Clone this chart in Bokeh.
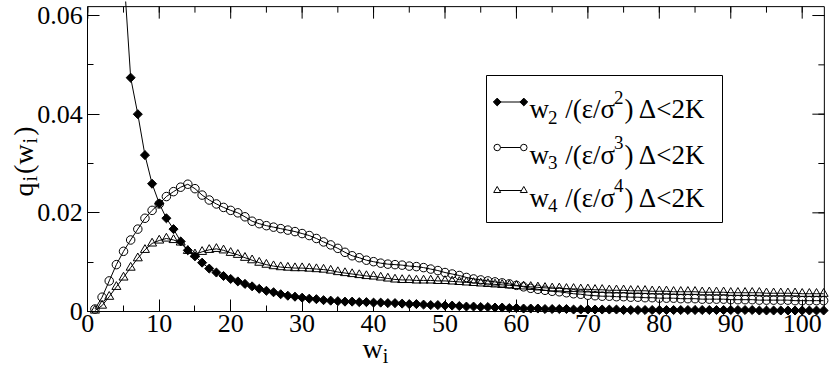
from math import pi
from bokeh.plotting import figure
from bokeh.models import (FixedTicker, Range1d, Label, BoxAnnotation,
                          CustomJSTickFormatter, ColumnDataSource)
from bokeh.embed import file_html
from bokeh.resources import INLINE

# ---------------- data ----------------
w_i = list(range(1, 104))

q2 = [0.600, 0.300, 0.170, 0.110, 0.0695, 0.0474, 0.0400, 0.0317, 0.0259, 0.0219,
      0.0189, 0.0167, 0.0142, 0.0124, 0.0112, 0.0099, 0.0087, 0.0079, 0.0072, 0.0066,
      0.0061, 0.0056, 0.0051, 0.0046, 0.0042, 0.0039, 0.0035, 0.0032, 0.0030, 0.0028,
      0.0026, 0.0025, 0.0023, 0.0022, 0.0021, 0.0020, 0.0020, 0.0019, 0.0019, 0.0018,
      0.0018, 0.0017, 0.0017, 0.0016, 0.0015, 0.0015, 0.0014, 0.0013, 0.0013, 0.0012,
      0.0012, 0.0011, 0.0010, 0.0010, 0.0009, 0.0009, 0.0008, 0.0008, 0.0007, 0.0007,
      0.0006, 0.0006, 0.0006, 0.0005, 0.0005, 0.0005, 0.0005, 0.0004, 0.0004, 0.0004,
      0.0004, 0.0004, 0.0004, 0.0004, 0.0003, 0.0003, 0.0003, 0.0003, 0.0003, 0.0003,
      0.0003, 0.0003, 0.0003, 0.0003, 0.0003, 0.0003, 0.0003, 0.0003, 0.0003, 0.0003,
      0.0003, 0.0003, 0.0003, 0.0002, 0.0002, 0.0002, 0.0002, 0.0002, 0.0002, 0.0002,
      0.0002, 0.0002, 0.0002]

q3 = [0.0005, 0.0029, 0.0062, 0.0095, 0.0122, 0.0145, 0.0167, 0.0189, 0.0205, 0.0218,
      0.0233, 0.0243, 0.0252, 0.0258, 0.0249, 0.0236, 0.0226, 0.0218, 0.0211, 0.0205,
      0.0200, 0.0192, 0.0183, 0.0178, 0.0174, 0.0171, 0.0168, 0.0165, 0.0162, 0.0158,
      0.0154, 0.0148, 0.0141, 0.0135, 0.0128, 0.0120, 0.0113, 0.0109, 0.0104, 0.0101,
      0.0098, 0.0096, 0.0095, 0.0094, 0.0092, 0.0091, 0.0089, 0.0086, 0.0083, 0.0079,
      0.0076, 0.0073, 0.0069, 0.0066, 0.0064, 0.0062, 0.0060, 0.0058, 0.0056, 0.0053,
      0.0050, 0.0047, 0.0045, 0.0043, 0.0041, 0.0040, 0.0038, 0.0036, 0.0035, 0.0033,
      0.0032, 0.0031, 0.0031, 0.0030, 0.0030, 0.0029, 0.0029, 0.0028, 0.0028, 0.0027,
      0.0027, 0.0027, 0.0026, 0.0026, 0.0026, 0.0025, 0.0025, 0.0025, 0.0025, 0.0024,
      0.0024, 0.0024, 0.0024, 0.0023, 0.0023, 0.0023, 0.0023, 0.0023, 0.0022, 0.0022,
      0.0022, 0.0022, 0.0022]

q4 = [0.0002, 0.0012, 0.0030, 0.0050, 0.0069, 0.0089, 0.0108, 0.0125, 0.0138, 0.0144,
      0.0148, 0.0145, 0.0140, 0.0123, 0.0116, 0.0121, 0.0125, 0.0127, 0.0124, 0.0119,
      0.0115, 0.0109, 0.0104, 0.0099, 0.0095, 0.0092, 0.0090, 0.0089, 0.0088, 0.0088,
      0.0087, 0.0086, 0.0085, 0.0083, 0.0080, 0.0078, 0.0076, 0.0074, 0.0072, 0.0071,
      0.0069, 0.0067, 0.0065, 0.0064, 0.0064, 0.0063, 0.0063, 0.0063, 0.0062, 0.0062,
      0.0061, 0.0060, 0.0059, 0.0058, 0.0057, 0.0056, 0.0055, 0.0054, 0.0053, 0.0052,
      0.0051, 0.0050, 0.0049, 0.0048, 0.0047, 0.0047, 0.0046, 0.0046, 0.0045, 0.0045,
      0.0044, 0.0044, 0.0043, 0.0043, 0.0043, 0.0042, 0.0042, 0.0042, 0.0041, 0.0041,
      0.0041, 0.0040, 0.0040, 0.0040, 0.0040, 0.0039, 0.0039, 0.0039, 0.0039, 0.0038,
      0.0038, 0.0038, 0.0038, 0.0038, 0.0037, 0.0037, 0.0037, 0.0037, 0.0037, 0.0036,
      0.0036, 0.0036, 0.0036]

x_ticks = [0, 10, 20, 30, 40, 50, 60, 70, 80, 90, 100]
x_minor = [0, 5, 10, 15, 20, 25, 30, 35, 40, 45, 50, 55, 60, 65, 70, 75, 80, 85, 90, 95, 100]
y_ticks = [0, 0.02, 0.04, 0.06]
y_minor = [0, 0.01, 0.02, 0.03, 0.04, 0.05, 0.06]
x_max = 103.1          # right edge of the plot box (data units)
y_max = 0.0618         # top edge of the plot box (data units)

legend_index = ["2", "3", "4"]      # w_n and sigma^n
legend_markers = ["diamond", "circle", "triangle"]

# ---------------- geometry (canvas px) ----------------
FONT = "Liberation Serif"
W, H = 830, 365
PX0, SXP = 87.3, 7.144      # canvas x of w=0, px per unit
PY0, SYP = 311.0, 4933.0    # canvas y of q=0, px per unit
TOPB = 1                    # frame starts 1 px below canvas top


def dx(px):
    return (px - PX0) / SXP


def dy(py):
    return (PY0 - py) / SYP


p = figure(width=W, height=H, output_backend="svg", toolbar_location=None,
           x_range=Range1d(dx(0), dx(W)), y_range=Range1d(dy(H), dy(TOPB)),
           min_border_left=0, min_border_right=0, min_border_top=TOPB, min_border_bottom=0,
           background_fill_color="white", border_fill_color="white")
p.xgrid.visible = False
p.ygrid.visible = False
p.outline_line_color = None


def style_axis(ax):
    ax.axis_line_color = "black"
    ax.axis_line_width = 1
    ax.major_tick_in = 12
    ax.major_tick_out = 0
    ax.minor_tick_in = 6
    ax.minor_tick_out = 0
    ax.major_tick_line_color = "black"
    ax.minor_tick_line_color = "black"
    ax.major_label_text_font = FONT
    ax.major_label_text_font_size = "26px"
    ax.major_label_text_color = "black"


xa = p.xaxis[0]
ya = p.yaxis[0]
xa.ticker = FixedTicker(ticks=x_ticks, minor_ticks=x_minor)
ya.ticker = FixedTicker(ticks=y_ticks, minor_ticks=y_minor)
ya.formatter = CustomJSTickFormatter(code="return tick == 0 ? '0' : tick.toFixed(2);")
xa.formatter = CustomJSTickFormatter(code="return tick.toFixed(0);")
style_axis(xa)
style_axis(ya)
xa.fixed_location = 0
ya.fixed_location = 0
xa.bounds = (0, x_max)
ya.bounds = (0, y_max)
xa.major_label_standoff = 3
ya.major_label_standoff = 5

# top and right edges of the box, with inward ticks
tx0, ty0, tx1, ty1 = [0, x_max], [y_max, 0], [x_max, x_max], [y_max, y_max]
for t in x_ticks:
    tx0.append(t); ty0.append(y_max); tx1.append(t); ty1.append(y_max - 12 / SYP)
for t in x_minor:
    tx0.append(t); ty0.append(y_max); tx1.append(t); ty1.append(y_max - 6 / SYP)
for t in y_ticks:
    tx0.append(x_max); ty0.append(t); tx1.append(x_max - 12 / SXP); ty1.append(t)
for t in y_minor:
    tx0.append(x_max); ty0.append(t); tx1.append(x_max - 6 / SXP); ty1.append(t)
p.segment(tx0, ty0, tx1, ty1, line_color="black", line_width=1)

src = ColumnDataSource(dict(w=w_i, q2=q2, q3=q3, q4=q4))

# series
p.line("w", "q2", source=src, line_color="black", line_width=1)
p.scatter("w", "q2", source=src, marker="square", angle=pi / 4, size=6.4,
          fill_color="black", line_color="black")
p.line("w", "q3", source=src, line_color="black", line_width=1)
p.scatter("w", "q3", source=src, marker="circle", size=8.5,
          fill_color=None, line_color="black", line_width=1)
p.line("w", "q4", source=src, line_color="black", line_width=1)
p.scatter("w", "q4", source=src, marker="triangle", size=9,
          fill_color=None, line_color="black", line_width=1)


def put(text, px, py, size, angle=0.0, align="left"):
    p.add_layout(Label(x=dx(px), y=dy(py), text=text, x_units="data", y_units="data",
                       text_font=FONT, text_font_size=f"{size}px", text_color="black",
                       angle=angle, text_align=align, text_baseline="alphabetic",
                       level="overlay"))


adv = {'w': 0.722, ' ': 0.25, '/': 0.278, '(': 0.333, ')': 0.333, 'ε': 0.42,
       'σ': 0.50, 'Δ': 0.612, '<': 0.564, '2': 0.5, '3': 0.5, '4': 0.5, 'K': 0.722,
       'i': 0.278, 'q': 0.5}


def width(t, size):
    return sum(adv.get(c, 0.5) for c in t) * size


# ---------------- legend ----------------
p.add_layout(BoxAnnotation(left=dx(486), right=dx(722), top=dy(75), bottom=dy(222),
                           fill_color="white", fill_alpha=1.0, line_color="black",
                           line_width=1, line_alpha=1.0))

row_y = [101.5, 147.0, 190.0]
mk_x = [496.7, 523.3]
F, S = 27, 19

for n, mk, yy in zip(legend_index, legend_markers, row_y):
    ls = ColumnDataSource(dict(x=[dx(v) for v in mk_x], y=[dy(yy), dy(yy)]))
    p.line("x", "y", source=ls, line_color="black", line_width=1, level="overlay")
    if mk == "diamond":
        p.scatter("x", "y", source=ls, marker="square", angle=pi / 4, size=5.5,
                  fill_color="black", line_color="black", level="overlay")
    elif mk == "circle":
        p.scatter("x", "y", source=ls, marker="circle", size=6.5, fill_color="white",
                  line_color="black", level="overlay")
    else:
        p.scatter("x", "y", source=ls, marker="triangle", size=7, fill_color="white",
                  line_color="black", level="overlay")
    b = yy + 7
    x = 529.0
    put("w", x, b, F)
    x += width("w", F)
    put(n, x - 1, b + 8, S)
    x += width(n, S) + width(" ", F)
    put("/(ε/σ", x, b, F)
    x += width("/(ε/σ", F)
    put(n, x, b - 12, S)
    x += width(n, S) + 1
    put(") Δ<2K", x, b, F)

# ---------------- axis titles ----------------
# y: q_i(w_i), rotated
FY, SY = 28, 20
y0 = 196.0
bx, sbx = 23.0, 29.0
for t, kind in [("q", 0), ("i", 1), ("(w", 0), ("i", 1), (")", 0)]:
    if kind == 0:
        put(t, bx, y0, FY, angle=pi / 2)
        y0 -= width(t, FY) + 1
    else:
        put(t, sbx, y0, SY, angle=pi / 2)
        y0 -= width(t, SY) + 2

# x: w_i
put("w", 362, 348, 28)
put("i", 362 + width("w", 28), 355, 20)

open("out.html", "w").write(file_html(p, INLINE))
